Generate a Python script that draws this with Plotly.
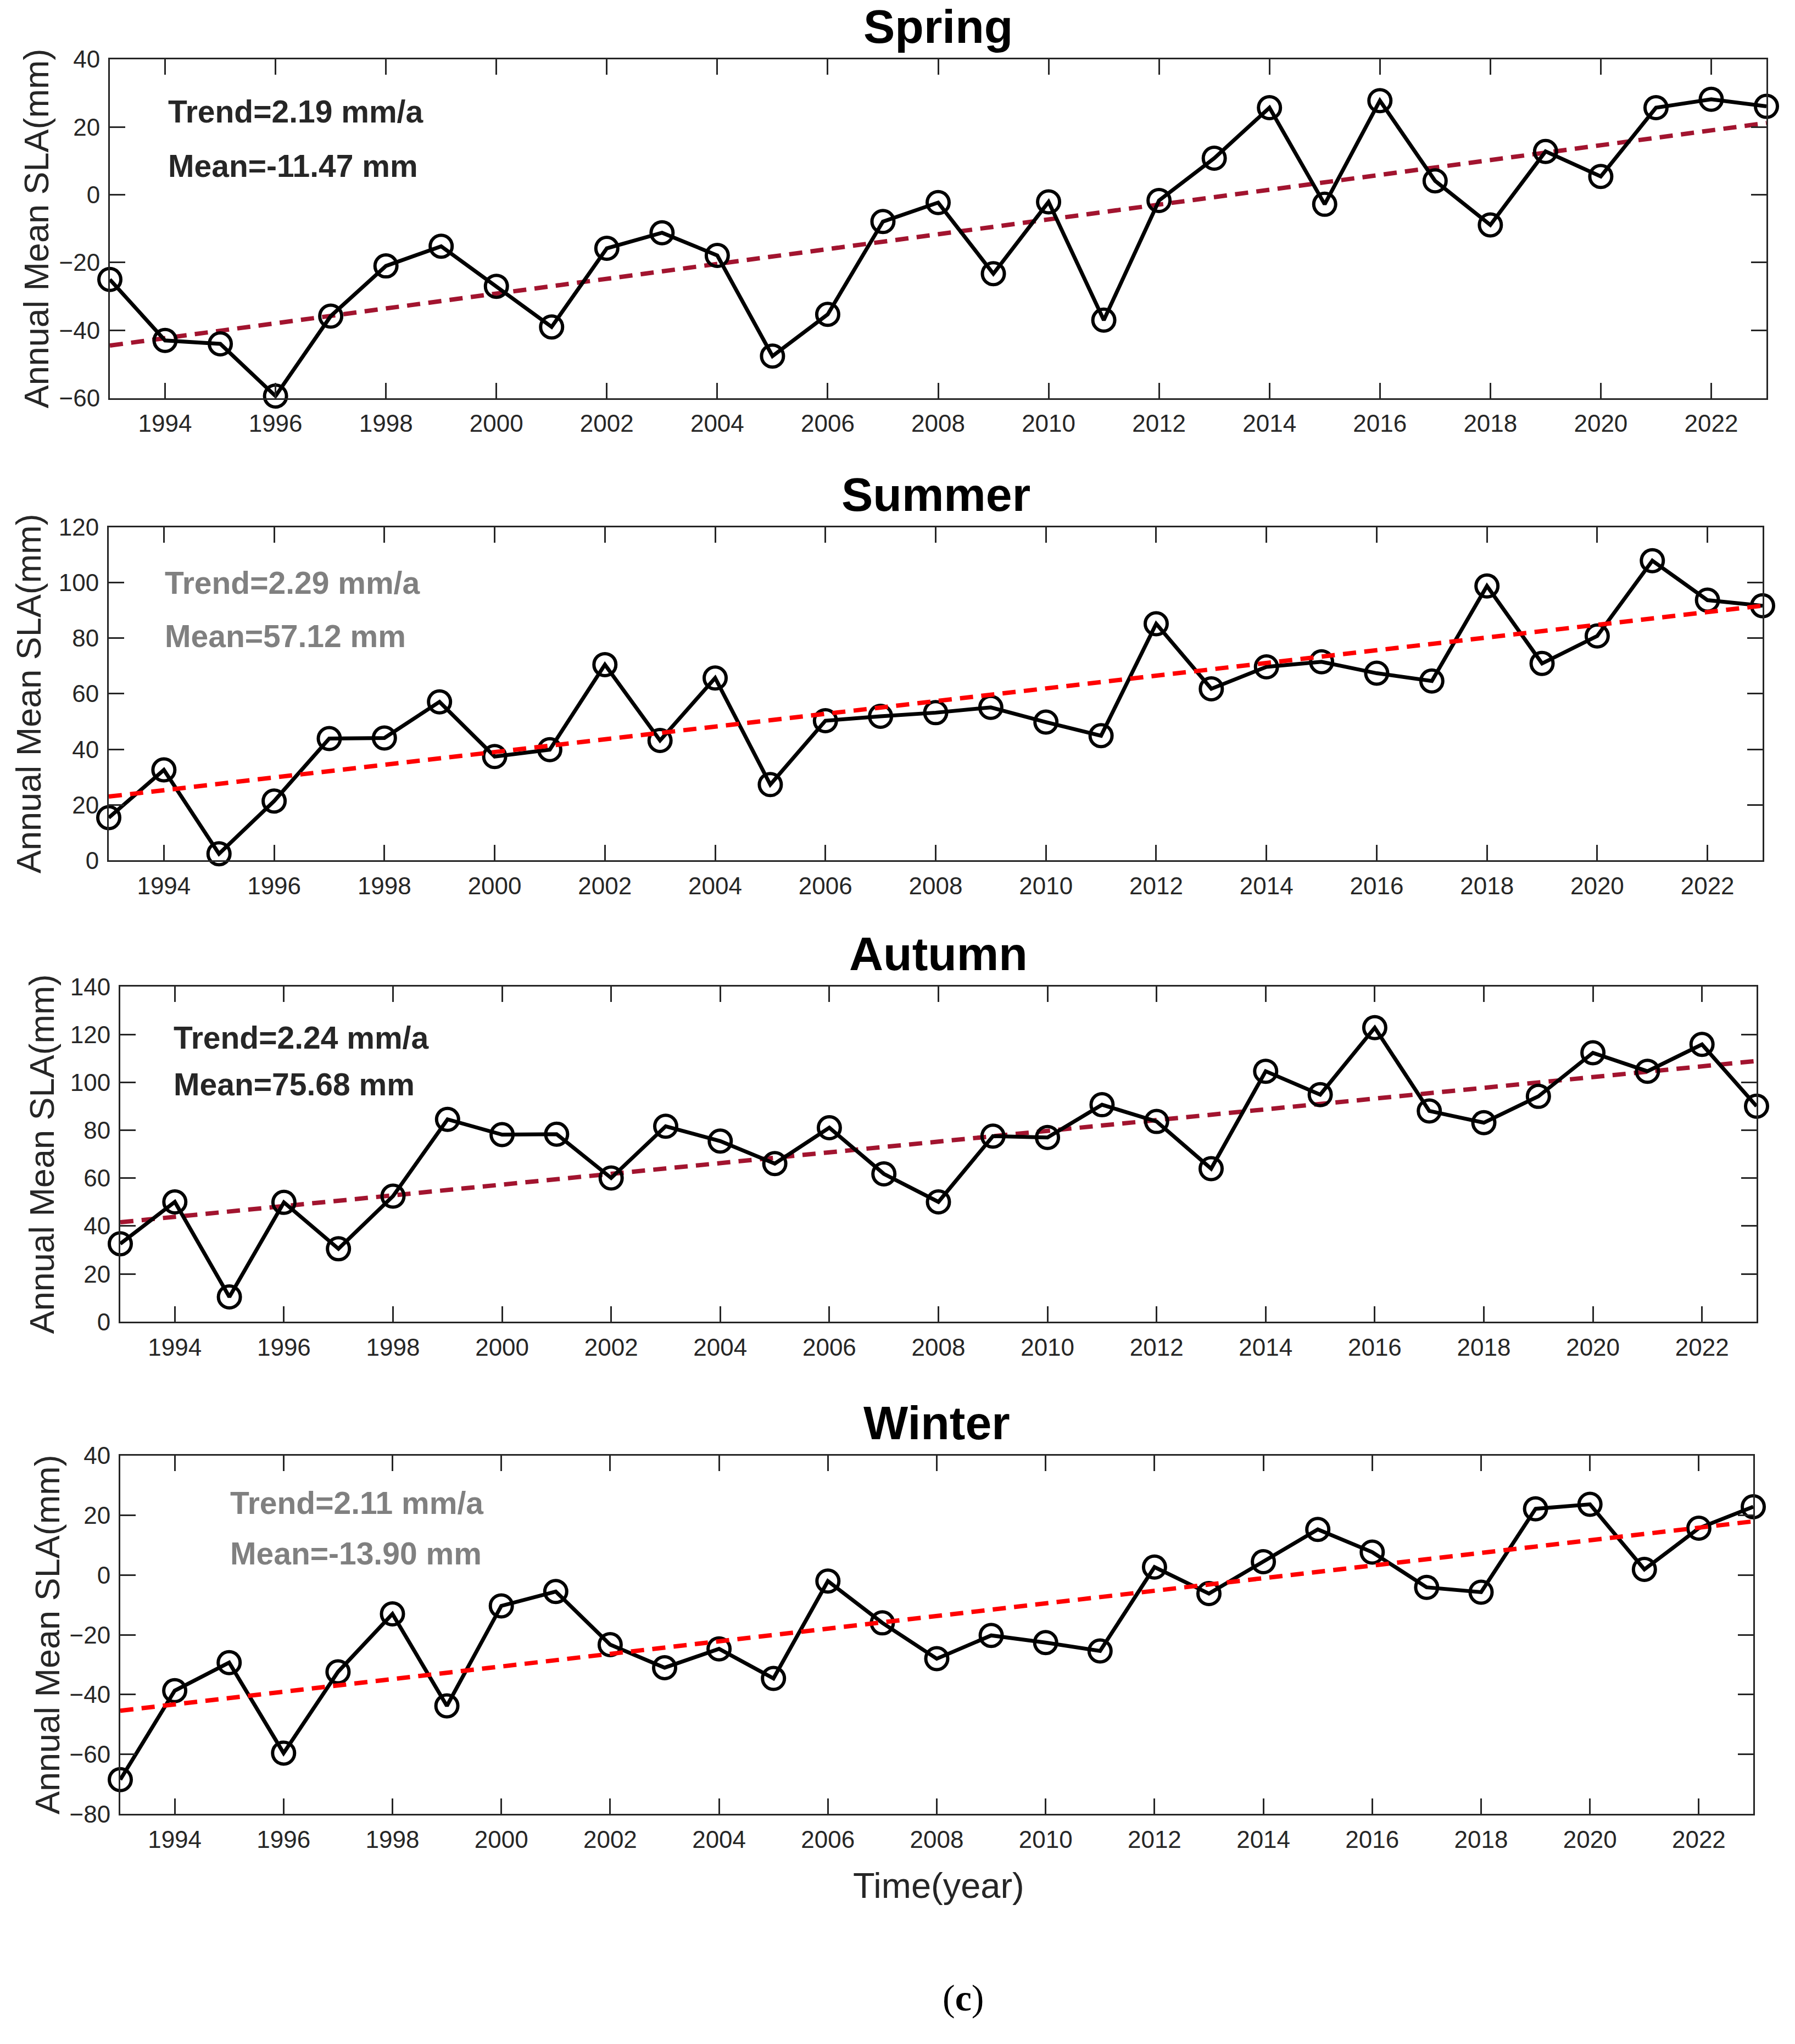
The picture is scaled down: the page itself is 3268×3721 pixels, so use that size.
# 季节平均海平面异常(SLA)时间序列, 1993-2023
import plotly.graph_objects as go

years = list(range(1993, 2024))

spring = [-25, -43, -44, -59.4, -35.8, -21, -15.2, -27, -39, -15.8,
          -11.2, -17.9, -47.6, -35.3, -7.9, -2.3, -23.3, -2.1, -37, -1.7,
          10.8, 25.7, -2.8, 27.8, 4.1, -8.9, 12.8, 5.4, 25.7, 28.2, 26.1]
summer = [15.4, 32.6, 2.4, 21.4, 43.9, 44.1, 57.1, 37.4, 39.9, 70.5,
          43.2, 65.7, 27.3, 50.3, 51.9, 53.2, 55.1, 49.8, 44.9, 85.2,
          61.8, 69.7, 71.5, 67.4, 64.6, 98.8, 70.9, 80.8, 107.9, 93.7, 91.7]
autumn = [32.6, 50.1, 10.4, 49.9, 30.5, 52.5, 84.6, 78.2, 78.4, 60.1,
          81.7, 75.5, 66.1, 81.1, 61.8, 50.1, 77.6, 77.0, 90.7, 83.7,
          64.0, 104.7, 94.9, 122.9, 88.1, 83.2, 94.2, 112.4, 104.7, 115.9, 90.1]
winter = [-68.5, -38.7, -29.3, -59.6, -32.4, -13.0, -43.8, -10.3, -5.5, -23.3,
          -31.0, -24.7, -34.6, -2.0, -16.0, -28.0, -20.2, -22.6, -25.4, 2.7,
          -6.2, 4.5, 15.3, 7.7, -4.1, -5.7, 22.2, 23.7, 1.9, 15.7, 22.9]

# trend line end values (1993, 2023)
trend_years = [1993, 2023]
spring_trend = [-44.5, 21.2]
summer_trend = [23.0, 91.7]
autumn_trend = [41.6, 109.0]
winter_trend = [-45.4, 18.0]

titles = ['Spring', 'Summer', 'Autumn', 'Winter']
trend_text = ['Trend=2.19 mm/a', 'Trend=2.29 mm/a', 'Trend=2.24 mm/a', 'Trend=2.11 mm/a']
mean_text = ['Mean=-11.47 mm', 'Mean=57.12 mm', 'Mean=75.68 mm', 'Mean=-13.90 mm']
y_ranges = [[-60, 40], [0, 120], [0, 140], [-80, 40]]
x_ticks = list(range(1994, 2023, 2))

W, H = 3268, 3721
FONT = 'Arial, Liberation Sans, sans-serif'
AX = '#262626'

# panel boxes in px: left, right, top, bottom
boxes = [(200, 3216, 84, 709), (198, 3209, 947, 1562),
         (219, 3198, 1795, 2413), (219, 3192, 2660, 3321)]
ylabel_x = [66, 52, 76, 86]
trend_colors = ['#A2142F', '#FF0000', '#A2142F', '#FF0000']
text_colors = ['#262626', '#808080', '#262626', '#808080']
text_pos = [(304, 180, 281), (298, 1050, 1148), (314, 1889, 1975), (417, 2747, 2840)]

series = [spring, summer, autumn, winter]
trends = [spring_trend, summer_trend, autumn_trend, winter_trend]

fig = go.Figure()
annotations = []
layout = {}

for i in range(4):
    n = '' if i == 0 else str(i + 1)
    xa, ya = 'x' + n, 'y' + n
    trend_line = go.Scatter(x=trend_years, y=trends[i], xaxis=xa, yaxis=ya, mode='lines',
                            line=dict(color=trend_colors[i], width=8, dash='24px,15px'),
                            showlegend=False, hoverinfo='skip')
    data_line = go.Scatter(x=years, y=series[i], xaxis=xa, yaxis=ya, mode='lines+markers',
                           line=dict(color='black', width=7),
                           marker=dict(symbol='circle-open', size=40, color='black',
                                       line=dict(width=6, color='black')),
                           cliponaxis=False, showlegend=False)
    if trend_colors[i] == '#FF0000':
        fig.add_trace(data_line)
        fig.add_trace(trend_line)
    else:
        fig.add_trace(trend_line)
        fig.add_trace(data_line)

    l, r, t, b = boxes[i]
    axis_common = dict(showline=True, mirror='ticks', linecolor=AX, linewidth=3,
                       ticks='inside', ticklen=28, tickwidth=2.5, tickcolor=AX,
                       showgrid=False, zeroline=False,
                       tickfont=dict(family=FONT, size=44, color=AX))
    layout['xaxis' + n] = dict(domain=[l / W, r / W], anchor=ya, range=[1993, 2023],
                               tickvals=x_ticks, ticklabelstandoff=6, **axis_common)
    layout['yaxis' + n] = dict(domain=[1 - b / H, 1 - t / H], anchor=xa, range=y_ranges[i],
                               dtick=20, tick0=0, ticklabelstandoff=6, **axis_common)

    annotations.append(dict(text='<b>' + titles[i] + '</b>', xref='paper', yref='paper',
                            x=(l + r) / 2 / W, y=1 - (t - 10) / H, xanchor='center', yanchor='bottom',
                            showarrow=False, font=dict(family=FONT, size=86, color='black')))
    annotations.append(dict(text='Annual Mean SLA(mm)', xref='paper', yref='paper', textangle=-90,
                            x=ylabel_x[i] / W, y=1 - (t + b) / 2 / H, xanchor='center', yanchor='middle',
                            showarrow=False, font=dict(family=FONT, size=63, color=AX)))
    tx, ty1, ty2 = text_pos[i]
    for txt, ty in [(trend_text[i], ty1), (mean_text[i], ty2)]:
        annotations.append(dict(text='<b>' + txt + '</b>', xref='paper', yref='paper',
                                x=tx / W, y=1 - ty / H, xanchor='left', yanchor='middle',
                                showarrow=False, font=dict(family=FONT, size=57, color=text_colors[i])))

annotations.append(dict(text='Time(year)', xref='paper', yref='paper', x=1709 / W, y=1 - 3453 / H,
                        xanchor='center', yanchor='middle', showarrow=False,
                        font=dict(family=FONT, size=65, color=AX)))
annotations.append(dict(text='(<b>c</b>)', xref='paper', yref='paper', x=1754 / W, y=1 - 3660 / H,
                        xanchor='center', yanchor='middle', showarrow=False,
                        font=dict(family='Liberation Serif, Times New Roman, serif', size=68, color='black')))

fig.update_layout(width=W, height=H, margin=dict(l=0, r=0, t=0, b=0),
                  paper_bgcolor='white', plot_bgcolor='white',
                  annotations=annotations, **layout)
fig.write_html("out.html", config={'displayModeBar': False},
               post_script="document.body.style.margin='0';")
